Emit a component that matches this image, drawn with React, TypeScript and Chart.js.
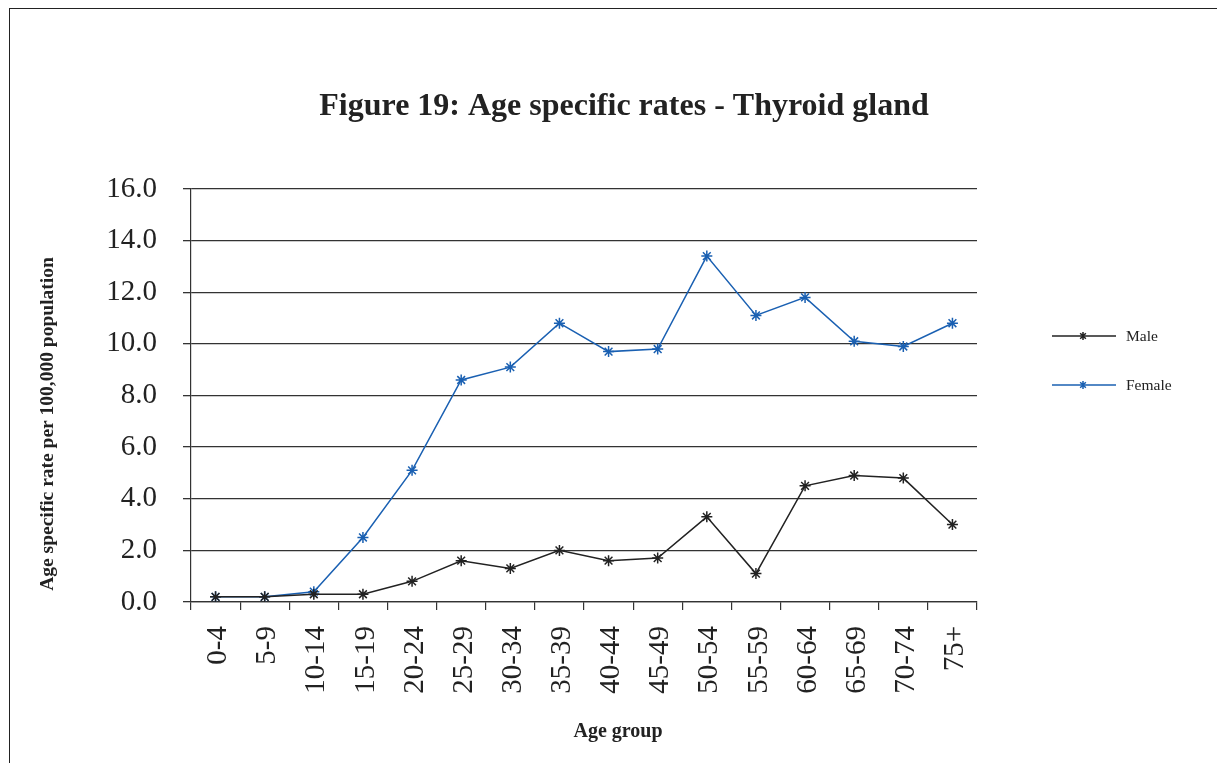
import React, { useEffect, useRef } from "react";
import { Chart, registerables } from "chart.js";

Chart.register(...registerables);

const categories = ["0-4", "5-9", "10-14", "15-19", "20-24", "25-29", "30-34", "35-39", "40-44", "45-49", "50-54", "55-59", "60-64", "65-69", "70-74", "75+"];
const maleRates = [0.2, 0.2, 0.3, 0.3, 0.8, 1.6, 1.3, 2.0, 1.6, 1.7, 3.3, 1.1, 4.5, 4.9, 4.8, 3.0];
const femaleRates = [0.2, 0.2, 0.4, 2.5, 5.1, 8.6, 9.1, 10.8, 9.7, 9.8, 13.4, 11.1, 11.8, 10.1, 9.9, 10.8];
const seriesNames = ["Male", "Female"];
const yMin = 0;
const yMax = 16;
const yStep = 2;
const titleText = "Figure 19: Age specific rates - Thyroid gland";
const yTitleText = "Age specific rate per 100,000 population";
const xTitleText = "Age group";

const MALE_COLOR = "#222222";
const FEMALE_COLOR = "#1a60b2";
const SERIF = "'Liberation Serif', 'Times New Roman', serif";

function drawStar(ctx: CanvasRenderingContext2D, x: number, y: number, r: number, color: string) {
  ctx.save();
  ctx.strokeStyle = color;
  ctx.lineWidth = 1.5;
  ctx.beginPath();
  const d = r * Math.SQRT1_2;
  ctx.moveTo(x - d, y - d); ctx.lineTo(x + d, y + d);
  ctx.moveTo(x + d, y - d); ctx.lineTo(x - d, y + d);
  ctx.moveTo(x, y - r); ctx.lineTo(x, y + r);
  ctx.stroke();
  ctx.restore();
}

const decorPlugin = {
  id: "decor",
  afterDraw(chart: any) {
    const ctx = chart.ctx as CanvasRenderingContext2D;
    ctx.save();
    ctx.fillStyle = "#222";
    ctx.textAlign = "center";
    ctx.textBaseline = "alphabetic";
    ctx.font = `bold 32px ${SERIF}`;
    ctx.fillText(titleText, 624, 115);

    ctx.font = `bold 20px ${SERIF}`;
    ctx.fillText(xTitleText, 618, 737);

    ctx.save();
    ctx.translate(53, 424);
    ctx.rotate(-Math.PI / 2);
    ctx.font = `bold 19.5px ${SERIF}`;
    ctx.fillText(yTitleText, 0, 0);
    ctx.restore();

    // legend
    const items = [
      { name: seriesNames[0], color: MALE_COLOR, y: 336 },
      { name: seriesNames[1], color: FEMALE_COLOR, y: 385 },
    ];
    ctx.textAlign = "left";
    ctx.textBaseline = "middle";
    ctx.font = `15.5px ${SERIF}`;
    for (const it of items) {
      ctx.strokeStyle = it.color;
      ctx.lineWidth = 1.5;
      ctx.beginPath();
      ctx.moveTo(1052, it.y);
      ctx.lineTo(1116, it.y);
      ctx.stroke();
      drawStar(ctx, 1083, it.y, 4, it.color);
      ctx.fillStyle = "#222";
      ctx.fillText(it.name, 1126, it.y + 1);
    }
    ctx.restore();
  },
};

export default function App() {
  const canvasRef = useRef<HTMLCanvasElement | null>(null);

  useEffect(() => {
    document.body.style.margin = "0";
    const canvas = canvasRef.current;
    if (!canvas) return;
    const chart = new Chart(canvas, {
      type: "line",
      data: {
        labels: categories,
        datasets: [
          {
            label: seriesNames[0],
            data: maleRates,
            borderColor: MALE_COLOR,
            backgroundColor: MALE_COLOR,
            borderWidth: 1.5,
            pointStyle: "star",
            pointRadius: 5.5,
            pointBorderWidth: 1.5,
            pointBorderColor: MALE_COLOR,
            tension: 0,
          },
          {
            label: seriesNames[1],
            data: femaleRates,
            borderColor: FEMALE_COLOR,
            backgroundColor: FEMALE_COLOR,
            borderWidth: 1.5,
            pointStyle: "star",
            pointRadius: 5.5,
            pointBorderWidth: 1.5,
            pointBorderColor: FEMALE_COLOR,
            tension: 0,
          },
        ],
      },
      options: {
        responsive: false,
        animation: false,
        layout: { padding: { top: 189, right: 240, left: 0, bottom: 0 } },
        plugins: {
          legend: { display: false },
          title: { display: false },
          tooltip: { enabled: false },
        },
        scales: {
          x: {
            type: "category",
            offset: true,
            grid: {
              offset: true,
              drawOnChartArea: false,
              drawTicks: true,
              tickLength: 8,
              color: "#333",
              lineWidth: 1.2,
            },
            border: { display: true, color: "#333", width: 1.2 },
            ticks: {
              autoSkip: false,
              minRotation: 90,
              maxRotation: 90,
              padding: 16,
              labelOffset: 3,
              color: "#222",
              font: { family: SERIF, size: 29 },
            },
            afterFit(scale: any) {
              scale.height = 161;
            },
          },
          y: {
            min: yMin,
            max: yMax,
            ticks: {
              stepSize: yStep,
              padding: 26,
              color: "#222",
              font: { family: SERIF, size: 29 },
              callback: (v: any) => Number(v).toFixed(1),
            },
            grid: {
              color: "#333",
              lineWidth: 1.3,
              tickLength: 8,
              drawTicks: true,
            },
            border: { display: true, color: "#333", width: 1.2 },
            afterFit(scale: any) {
              scale.width = 191;
            },
          },
        },
      },
      plugins: [decorPlugin],
    });
    return () => chart.destroy();
  }, []);

  return (
    <div style={{ position: "relative", width: 1217, height: 763, background: "#fff", overflow: "hidden" }}>
      <canvas ref={canvasRef} width={1217} height={763} style={{ display: "block" }} />
      <div
        style={{
          position: "absolute",
          left: 9,
          top: 8,
          width: 1220,
          height: 770,
          borderTop: "1px solid #222",
          borderLeft: "1px solid #222",
          pointerEvents: "none",
        }}
      />
    </div>
  );
}
